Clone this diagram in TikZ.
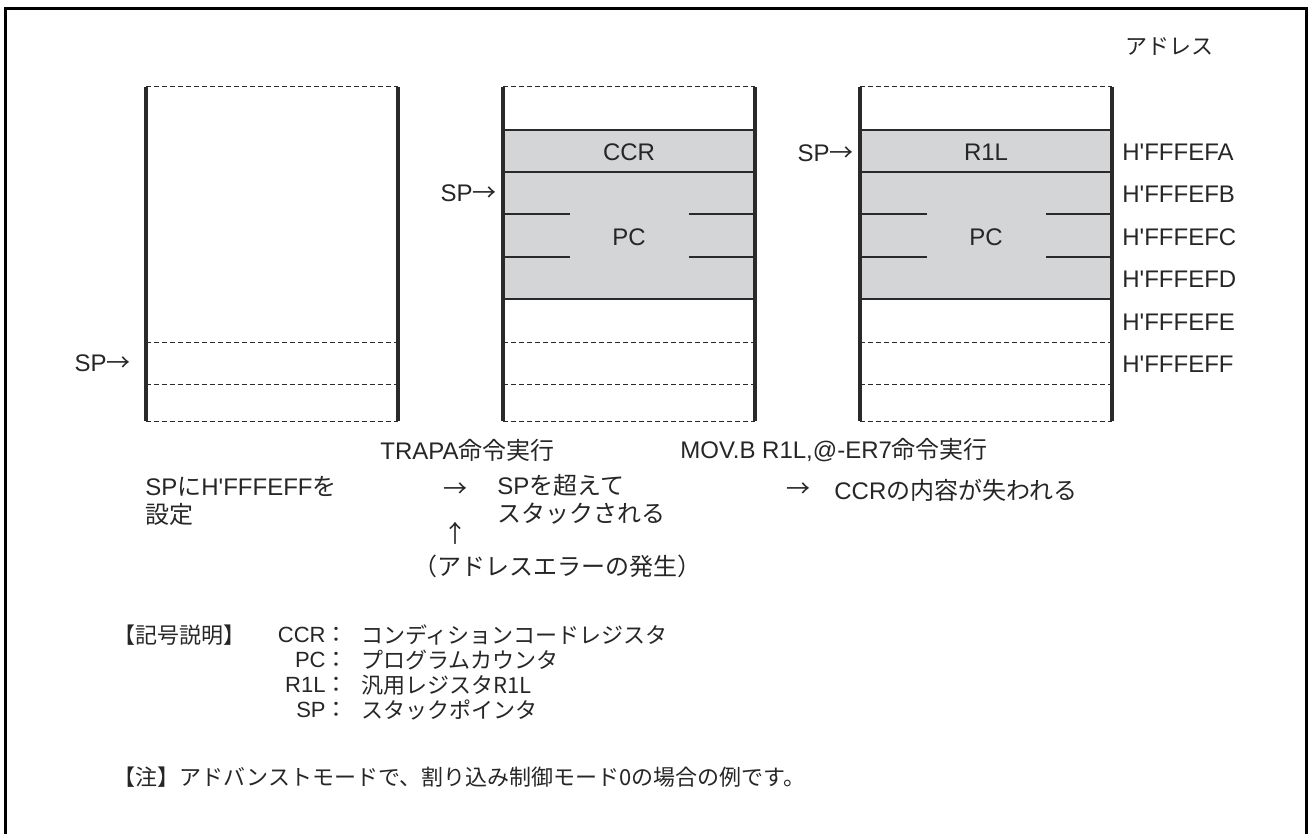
\documentclass[tikz,border=0pt]{standalone}
\usepackage{fontspec}
\setmainfont{Liberation Sans}
\newfontfamily\jpf{Noto Sans CJK JP}
\usetikzlibrary{positioning}
\definecolor{cellgray}{HTML}{D4D5D7}
\definecolor{ink}{HTML}{2A2A2A}
\newcommand\ap{\textquotesingle}
\newcommand\rarr{{\jpf →}}

\begin{document}
\begin{tikzpicture}[x=0.5pt,y=-0.5pt,line cap=butt,
    wall/.style={line width=1.7pt,ink},
    rowline/.style={line width=0.8pt,ink},
    dashrow/.style={line width=0.5pt,ink,dash pattern=on 2.5pt off 1.5pt},
    txt/.style={inner sep=0pt,text=black!85,font=\fontsize{12pt}{15pt}\selectfont},
    small/.style={txt,font=\fontsize{11pt}{13pt}\selectfont}]
  \useasboundingbox (0,0) rectangle (1310,834);
  \draw[line width=1.5pt] (5,834) -- (5,9) -- (1306,9) -- (1306,834);
  \node[small,anchor=east] (adrhead) at (1214,47) {\jpf アドレス};
  % stack 1: SP set
  \begin{scope}[shift={(146,0)}]
    \draw[wall] (0,87) -- (0,421);
    \draw[wall] (252,87) -- (252,421);
    \foreach \y in {87,342,384,421} \draw[dashrow] (0,\y) -- (252,\y);
  \end{scope}
  \node[txt,anchor=east] (sp1) at (131,363) {SP\rarr};
  % stacks 2 and 3
  \foreach \sx/\top in {503/CCR,860/R1L} {
    \begin{scope}[shift={(\sx,0)}]
      \fill[cellgray] (0,130) rectangle (252,299);
      \foreach \y in {130,172,299} \draw[rowline] (0,\y) -- (252,\y);
      \foreach \y in {214,257} {
        \draw[rowline] (0,\y) -- (67,\y);
        \draw[rowline] (186,\y) -- (252,\y);
      }
      \foreach \y in {87,342,384,421} \draw[dashrow] (0,\y) -- (252,\y);
      \draw[wall] (0,87) -- (0,421);
      \draw[wall] (252,87) -- (252,421);
      \node[txt] (top\top) at (126,152) {\top};
      \node[txt] (pc\top) at (126,237) {PC};
    \end{scope}
  }
  \node[txt,anchor=east] (sp2) at (497,193) {SP\rarr};
  \node[txt,anchor=east] (sp3) at (854,153) {SP\rarr};
  \foreach \a/\y in {A/152,B/194,C/237,D/279,E/322,F/364}
    \node[txt,anchor=west] (adr\a) at (1122,\y) {H\ap FFFEF\a};
  % captions
  \node[txt,anchor=west] (trapa) at (380,450) {TRAPA\jpf 命令実行};
  \node[txt,anchor=west] (movb) at (680,450) {MOV.B R1L,@-ER7\jpf 命令実行};
  \node[txt,anchor=north west,align=left] (setsp) at (145,476)
    {SP{\jpf に}H\ap FFFEFF{\jpf を}\\[-1pt]{\jpf 設定}};
  \node[txt] (arr1) at (455,490) {\rarr};
  \node[txt] (arrup) at (455,533) {\jpf ↑};
  \node[txt,anchor=north west,align=left] (over) at (497,474)
    {SP{\jpf を超えて}\\[-1pt]{\jpf スタックされる}};
  \node[txt] (arr2) at (798,490) {\rarr};
  \node[txt,anchor=west] (lost) at (834,490) {CCR\jpf の内容が失われる};
  \node[txt,anchor=west] (adrerr) at (413,566) {\jpf （アドレスエラーの発生）};
  % legend
  \node[small,anchor=west] (legend) at (113,635) {\jpf 【記号説明】};
  \foreach \k/\v/\y in {CCR/コンディションコードレジスタ/635,PC/プログラムカウンタ/660,
      R1L/汎用レジスタR1L/685,SP/スタックポインタ/710} {
    \node[small,anchor=east] (key\k) at (348,\y) {\k\jpf ：};
    \node[small,anchor=west] (val\k) at (361,\y) {\jpf \v};
  }
  \node[small,anchor=west] (note) at (113,777)
    {\jpf 【注】アドバンストモードで、割り込み制御モード0の場合の例です。};
\end{tikzpicture}
\end{document}
